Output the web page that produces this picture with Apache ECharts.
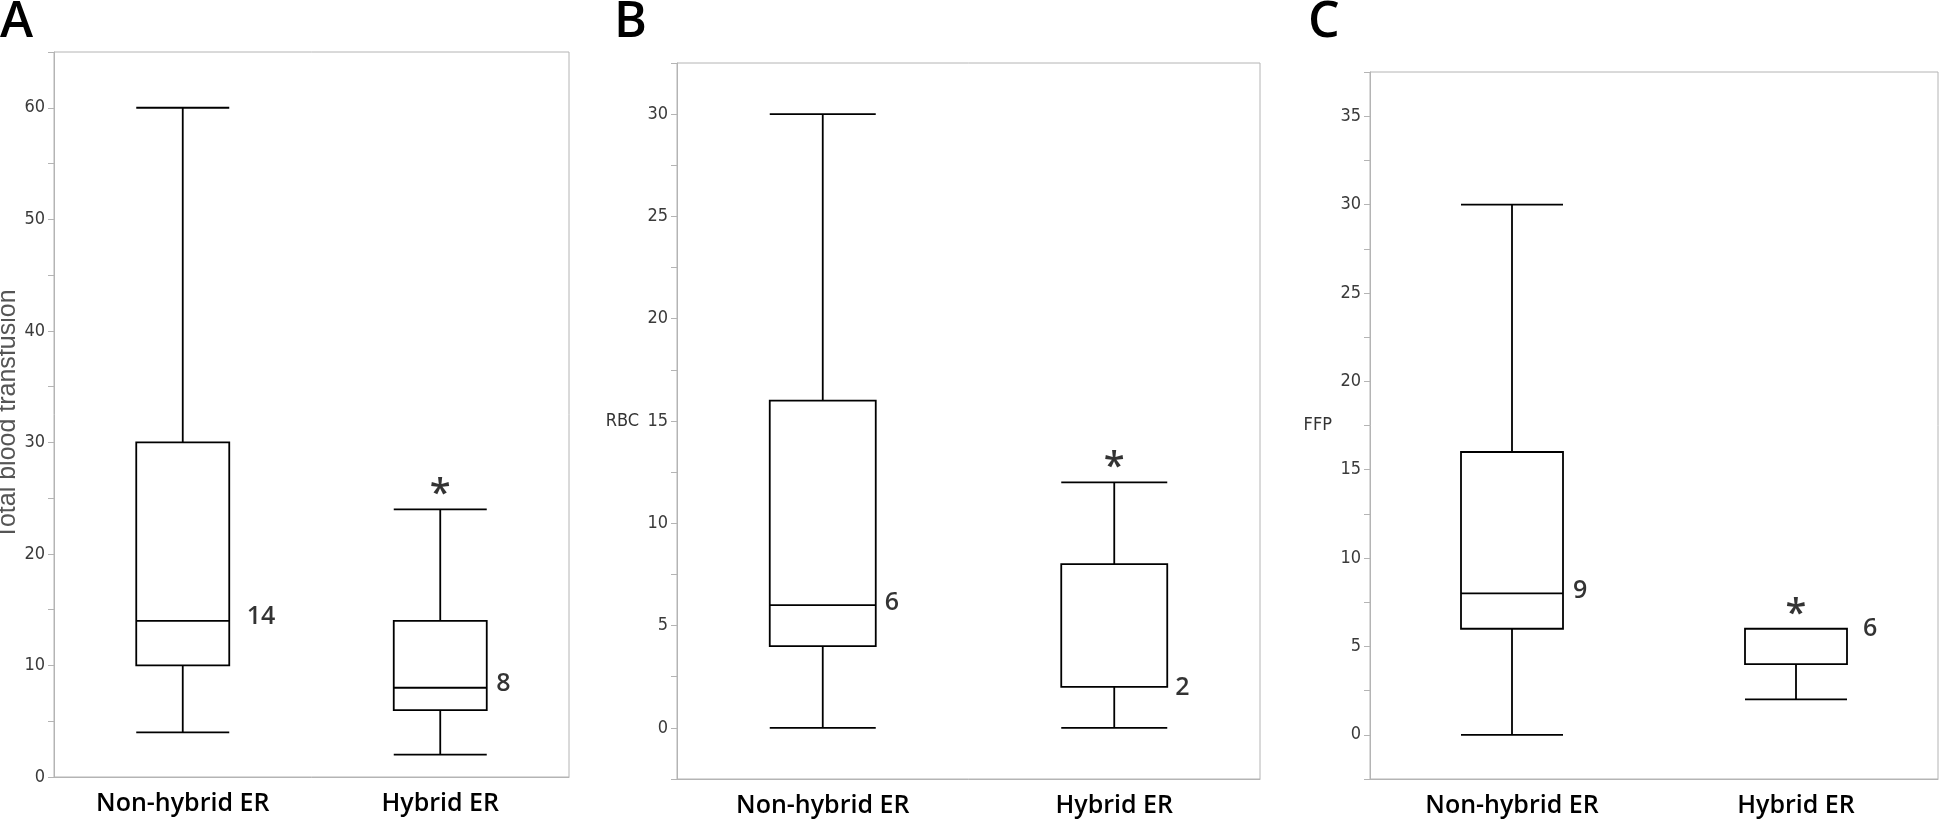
<!DOCTYPE html>
<html>
<head>
<meta charset="utf-8">
<script src="https://cdn.jsdelivr.net/npm/echarts@6/dist/echarts.min.js"></script>
<style>
html,body{margin:0;padding:0;background:#fff;}
#chart{width:1940px;height:820px;}
</style>
</head>
<body>
<div id="chart"></div>
<script>
// ---------- data ----------
const panelLetters = ['A', 'B', 'C'];
const categories = ['Non-hybrid ER', 'Hybrid ER'];
const yNames = ['Total blood transfusion', 'RBC', 'FFP'];

// [min, Q1, median, Q3, max]
const boxA = [[4, 10, 14, 30, 60], [2, 6, 8, 14, 24]];
const boxB = [[0, 4, 6, 16, 30], [0, 2, 2, 8, 12]];
const boxC = [[0, 6, 8, 16, 30], [2, 4, 6, 6, 6]];

// annotation numbers and the value they sit beside
const noteTextA = ['14', '8'];
const noteValA = [14, 8];
const noteTextB = ['6', '2'];
const noteValB = [6, 2];
const noteTextC = ['9', '6'];
const noteValC = [8, 6];

// significance star placed above the whisker of Hybrid ER
const starCatIndex = 1;

// y axes
const yMin = [0, -2.5, -2.5];
const yMax = [65, 32.5, 37.5];
const yStep = [5, 2.5, 2.5];
const tickLabelsA = ['0', '10', '20', '30', '40', '50', '60'];
const tickLabelsB = ['0', '5', '10', '15', '20', '25', '30'];
const tickLabelsC = ['0', '5', '10', '15', '20', '25', '30', '35'];

// ---------- layout / style ----------
const grids = [
  {left: 54, top: 52, width: 515, height: 725},
  {left: 677, top: 63, width: 583, height: 716},
  {left: 1370, top: 72, width: 568, height: 707}
];
const boxW = [93, 106, 102];
const noteDX = [[64, 56], [62, 61], [61, 67]];
const noteDY = [[-4, -4], [-2, 1], [-3, 0]];
const letterX = [0, 614, 1308];

const boxes = [boxA, boxB, boxC];
const noteTexts = [noteTextA, noteTextB, noteTextC];
const noteVals = [noteValA, noteValB, noteValC];
const tickLabels = [tickLabelsA, tickLabelsB, tickLabelsC];

const frameColor = '#b4b4b4';
const tickFont = "'Liberation Sans Narrow', 'DejaVu Sans Condensed', sans-serif";
const mainFont = "'Open Sans', 'Noto Sans', sans-serif";

const option = {
  animation: false,
  backgroundColor: '#ffffff',
  title: panelLetters.map((t, i) => ({
    text: t, left: letterX[i], top: -2, padding: 0,
    textStyle: {fontFamily: mainFont, fontSize: 50, fontWeight: 600, color: '#000'}
  })),
  grid: grids.map(g => Object.assign({
    show: true, borderColor: frameColor, borderWidth: 1, backgroundColor: 'transparent',
    containLabel: false, outerBoundsMode: 'none'
  }, g)),
  xAxis: grids.map((g, i) => ({
    type: 'category', gridIndex: i, data: categories,
    axisLine: {onZero: false, lineStyle: {color: frameColor, width: 1}},
    axisTick: {show: false},
    axisLabel: {fontFamily: mainFont, fontSize: 25, fontWeight: 600, color: '#000', margin: 14},
    splitLine: {show: false}
  })),
  yAxis: grids.map((g, i) => ({
    type: 'value', gridIndex: i, min: yMin[i], max: yMax[i], interval: yStep[i],
    name: yNames[i], nameLocation: 'middle',
    nameRotate: i === 0 ? 90 : 0,
    nameGap: i === 0 ? 33 : 38,
    nameTextStyle: i === 0
      ? {fontFamily: "'Liberation Sans', Arial, sans-serif", fontSize: 25, color: '#555'}
      : {fontFamily: tickFont, fontSize: 18, color: '#333'},
    axisLine: {show: true, onZero: false, lineStyle: {color: frameColor, width: 1}},
    axisTick: {show: true, length: 6, lineStyle: {color: frameColor}},
    axisLabel: {
      fontFamily: tickFont, fontSize: 18, color: '#3a3a3a', margin: 9,
      showMaxLabel: true, showMinLabel: true,
      formatter: function (v) {
        const s = String(v);
        return tickLabels[i].indexOf(s) >= 0 ? s : '';
      }
    },
    splitLine: {show: false}
  })),
  series: []
};

boxes.forEach((b, i) => {
  option.series.push({
    type: 'boxplot', xAxisIndex: i, yAxisIndex: i,
    data: b,
    boxWidth: [boxW[i], boxW[i]],
    itemStyle: {color: '#fff', borderColor: '#000', borderWidth: 1.8},
    emphasis: {disabled: true},
    z: 3
  });
  // number annotations
  option.series.push({
    type: 'scatter', xAxisIndex: i, yAxisIndex: i,
    symbolSize: 0, silent: true, z: 5,
    data: noteTexts[i].map((t, k) => ({
      value: [k, noteVals[i][k]], name: t,
      label: {offset: [noteDX[i][k], noteDY[i][k]]}
    })),
    label: {
      show: true, position: 'inside', align: 'left', verticalAlign: 'middle',
      formatter: p => p.name,
      fontFamily: mainFont, fontSize: 25, fontWeight: 600, color: '#000'
    }
  });
  // star
  option.series.push({
    type: 'scatter', xAxisIndex: i, yAxisIndex: i,
    symbolSize: 0, silent: true, z: 5,
    data: [{value: [starCatIndex, b[starCatIndex][4]], name: '*'}],
    label: {
      show: true, position: 'inside', align: 'center', verticalAlign: 'middle',
      offset: [0, -14],
      formatter: '*',
      fontFamily: mainFont, fontSize: 38, fontWeight: 600, color: '#000'
    }
  });
});

const chart = echarts.init(document.getElementById('chart'), null, {renderer: 'canvas'});
chart.setOption(option);
</script>
</body>
</html>
